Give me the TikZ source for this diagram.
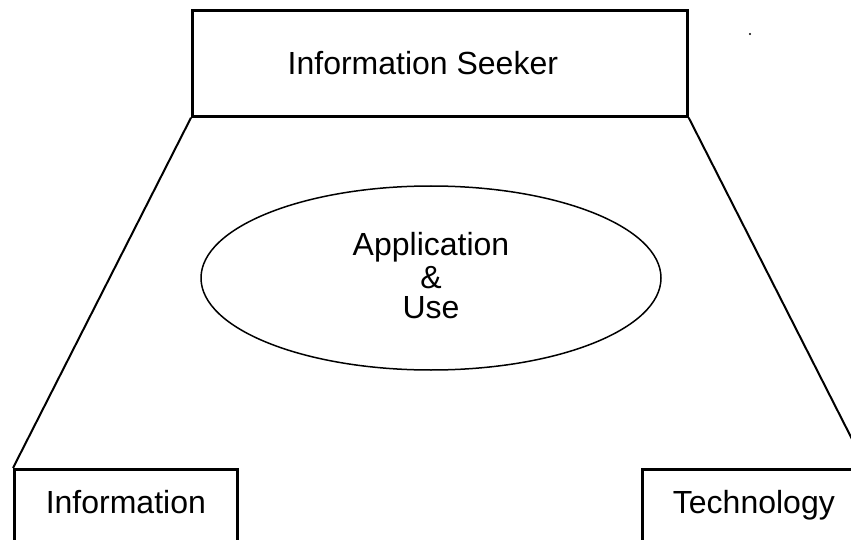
\documentclass[tikz,border=0pt]{standalone}
\usepackage{fontspec}
\setmainfont{Liberation Sans}
\usetikzlibrary{shapes.geometric}
\tikzset{every node/.style={font=\fontsize{32}{30}\selectfont},
	frame/.style={draw,line width=2.7pt,inner ysep=0pt},
	lowframe/.style={frame,minimum width=223pt,text height=44pt,text depth=48pt,anchor=north west}}

\begin{document}
\begin{tikzpicture}[x=1pt,y=-1pt]
		\clip (0,0) rectangle (851,540);
		\useasboundingbox (0,0) rectangle (851,540);
		\node[frame,minimum width=495pt,minimum height=106pt,anchor=north west] (seeker) at (191,9) {Information Seeker\kern34pt\relax};
		\node[lowframe] (info) at (13,468) {Information};
		\node[lowframe] (tech) at (641,468) {Technology};
		\node[ellipse,draw,line width=1.5pt,minimum width=460pt,minimum height=184pt,inner sep=0pt,align=center] (use) at (431,278) {Application\\[3pt]\&\\Use\rule[-6pt]{0pt}{0pt}};
		\fill (750,34) circle (1.2pt);
		
		\draw[line width=2pt] (seeker.south west) -- (info.north west)
		(seeker.south east) -- (tech.north east);
	\end{tikzpicture}
\end{document}
